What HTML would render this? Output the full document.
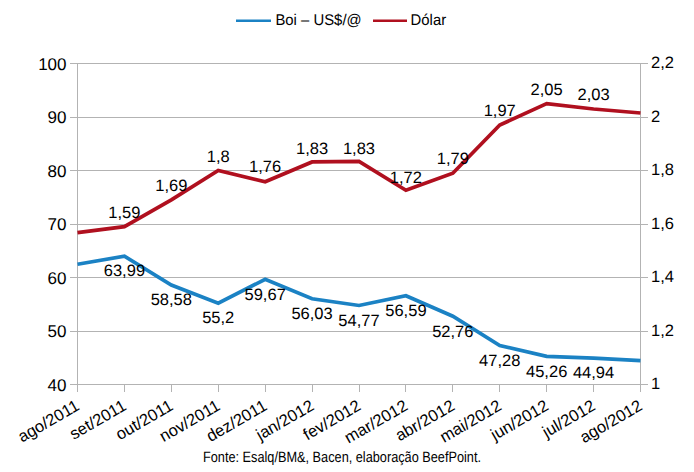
<!DOCTYPE html>
<html><head><meta charset="utf-8"><style>html,body{margin:0;padding:0;width:694px;height:472px;overflow:hidden;background:#fff}</style></head>
<body>
<svg width="694" height="472" viewBox="0 0 694 472" style="position:absolute;left:0;top:0" text-rendering="geometricPrecision">
<rect width="694" height="472" fill="#fff"/>
<line x1="70" y1="63.5" x2="648" y2="63.5" stroke="#b3b3b3" stroke-width="1"/>
<line x1="70" y1="117.5" x2="648" y2="117.5" stroke="#b3b3b3" stroke-width="1"/>
<line x1="70" y1="170.5" x2="648" y2="170.5" stroke="#b3b3b3" stroke-width="1"/>
<line x1="70" y1="224.5" x2="648" y2="224.5" stroke="#b3b3b3" stroke-width="1"/>
<line x1="70" y1="277.5" x2="648" y2="277.5" stroke="#b3b3b3" stroke-width="1"/>
<line x1="70" y1="331.5" x2="648" y2="331.5" stroke="#b3b3b3" stroke-width="1"/>
<line x1="70" y1="384.5" x2="648" y2="384.5" stroke="#b3b3b3" stroke-width="1"/>
<line x1="77.5" y1="63.5" x2="77.5" y2="392" stroke="#b3b3b3" stroke-width="1"/>
<line x1="640.5" y1="63.5" x2="640.5" y2="392" stroke="#b3b3b3" stroke-width="1"/>
<line x1="124.5" y1="384.5" x2="124.5" y2="392" stroke="#b3b3b3" stroke-width="1"/>
<line x1="171.5" y1="384.5" x2="171.5" y2="392" stroke="#b3b3b3" stroke-width="1"/>
<line x1="218.5" y1="384.5" x2="218.5" y2="392" stroke="#b3b3b3" stroke-width="1"/>
<line x1="265.5" y1="384.5" x2="265.5" y2="392" stroke="#b3b3b3" stroke-width="1"/>
<line x1="312.5" y1="384.5" x2="312.5" y2="392" stroke="#b3b3b3" stroke-width="1"/>
<line x1="359.5" y1="384.5" x2="359.5" y2="392" stroke="#b3b3b3" stroke-width="1"/>
<line x1="405.5" y1="384.5" x2="405.5" y2="392" stroke="#b3b3b3" stroke-width="1"/>
<line x1="452.5" y1="384.5" x2="452.5" y2="392" stroke="#b3b3b3" stroke-width="1"/>
<line x1="499.5" y1="384.5" x2="499.5" y2="392" stroke="#b3b3b3" stroke-width="1"/>
<line x1="546.5" y1="384.5" x2="546.5" y2="392" stroke="#b3b3b3" stroke-width="1"/>
<line x1="593.5" y1="384.5" x2="593.5" y2="392" stroke="#b3b3b3" stroke-width="1"/>
<text x="66.5" y="69.5" font-family="Liberation Sans, sans-serif" font-size="17" text-anchor="end" fill="#000">100</text>
<text x="66.5" y="123.0" font-family="Liberation Sans, sans-serif" font-size="17" text-anchor="end" fill="#000">90</text>
<text x="66.5" y="176.5" font-family="Liberation Sans, sans-serif" font-size="17" text-anchor="end" fill="#000">80</text>
<text x="66.5" y="230.0" font-family="Liberation Sans, sans-serif" font-size="17" text-anchor="end" fill="#000">70</text>
<text x="66.5" y="283.5" font-family="Liberation Sans, sans-serif" font-size="17" text-anchor="end" fill="#000">60</text>
<text x="66.5" y="337.0" font-family="Liberation Sans, sans-serif" font-size="17" text-anchor="end" fill="#000">50</text>
<text x="66.5" y="390.5" font-family="Liberation Sans, sans-serif" font-size="17" text-anchor="end" fill="#000">40</text>
<text x="651" y="68.0" font-family="Liberation Sans, sans-serif" font-size="16.5" fill="#000">2,2</text>
<text x="651" y="121.5" font-family="Liberation Sans, sans-serif" font-size="16.5" fill="#000">2</text>
<text x="651" y="175.0" font-family="Liberation Sans, sans-serif" font-size="16.5" fill="#000">1,8</text>
<text x="651" y="228.5" font-family="Liberation Sans, sans-serif" font-size="16.5" fill="#000">1,6</text>
<text x="651" y="282.0" font-family="Liberation Sans, sans-serif" font-size="16.5" fill="#000">1,4</text>
<text x="651" y="335.5" font-family="Liberation Sans, sans-serif" font-size="16.5" fill="#000">1,2</text>
<text x="651" y="389.0" font-family="Liberation Sans, sans-serif" font-size="16.5" fill="#000">1</text>
<polyline points="77.50,232.56 124.42,226.67 171.33,199.93 218.25,170.50 265.17,181.73 312.08,161.94 359.00,161.41 405.92,190.29 452.83,173.17 499.75,125.02 546.67,103.62 593.58,108.98 640.50,112.99" fill="none" stroke="#b0101f" stroke-width="3.7" stroke-linejoin="miter" stroke-linecap="butt"/>
<polyline points="77.50,264.29 124.42,256.15 171.33,285.10 218.25,303.18 265.17,279.27 312.08,298.74 359.00,305.48 405.92,295.74 452.83,316.23 499.75,345.55 546.67,356.36 593.58,358.07 640.50,360.69" fill="none" stroke="#1b82c4" stroke-width="3.7" stroke-linejoin="miter" stroke-linecap="butt"/>
<text x="124.41666666666666" y="217.87" font-family="Liberation Sans, sans-serif" font-size="16.5" text-anchor="middle" fill="#000">1,59</text>
<text x="124.41666666666666" y="276.45" font-family="Liberation Sans, sans-serif" font-size="16.5" text-anchor="middle" fill="#000">63,99</text>
<text x="171.33333333333331" y="191.12" font-family="Liberation Sans, sans-serif" font-size="16.5" text-anchor="middle" fill="#000">1,69</text>
<text x="171.33333333333331" y="305.40" font-family="Liberation Sans, sans-serif" font-size="16.5" text-anchor="middle" fill="#000">58,58</text>
<text x="218.25" y="161.70" font-family="Liberation Sans, sans-serif" font-size="16.5" text-anchor="middle" fill="#000">1,8</text>
<text x="218.25" y="323.48" font-family="Liberation Sans, sans-serif" font-size="16.5" text-anchor="middle" fill="#000">55,2</text>
<text x="265.16666666666663" y="172.40" font-family="Liberation Sans, sans-serif" font-size="16.5" text-anchor="middle" fill="#000">1,76</text>
<text x="265.16666666666663" y="299.57" font-family="Liberation Sans, sans-serif" font-size="16.5" text-anchor="middle" fill="#000">59,67</text>
<text x="312.08333333333337" y="153.67" font-family="Liberation Sans, sans-serif" font-size="16.5" text-anchor="middle" fill="#000">1,83</text>
<text x="312.08333333333337" y="319.04" font-family="Liberation Sans, sans-serif" font-size="16.5" text-anchor="middle" fill="#000">56,03</text>
<text x="359.0" y="153.67" font-family="Liberation Sans, sans-serif" font-size="16.5" text-anchor="middle" fill="#000">1,83</text>
<text x="359.0" y="325.78" font-family="Liberation Sans, sans-serif" font-size="16.5" text-anchor="middle" fill="#000">54,77</text>
<text x="405.9166666666667" y="183.10" font-family="Liberation Sans, sans-serif" font-size="16.5" text-anchor="middle" fill="#000">1,72</text>
<text x="405.9166666666667" y="316.04" font-family="Liberation Sans, sans-serif" font-size="16.5" text-anchor="middle" fill="#000">56,59</text>
<text x="452.8333333333333" y="164.37" font-family="Liberation Sans, sans-serif" font-size="16.5" text-anchor="middle" fill="#000">1,79</text>
<text x="452.8333333333333" y="336.53" font-family="Liberation Sans, sans-serif" font-size="16.5" text-anchor="middle" fill="#000">52,76</text>
<text x="499.75" y="116.22" font-family="Liberation Sans, sans-serif" font-size="16.5" text-anchor="middle" fill="#000">1,97</text>
<text x="499.75" y="365.85" font-family="Liberation Sans, sans-serif" font-size="16.5" text-anchor="middle" fill="#000">47,28</text>
<text x="546.6666666666667" y="94.83" font-family="Liberation Sans, sans-serif" font-size="16.5" text-anchor="middle" fill="#000">2,05</text>
<text x="546.6666666666667" y="376.66" font-family="Liberation Sans, sans-serif" font-size="16.5" text-anchor="middle" fill="#000">45,26</text>
<text x="593.5833333333334" y="100.18" font-family="Liberation Sans, sans-serif" font-size="16.5" text-anchor="middle" fill="#000">2,03</text>
<text x="593.5833333333334" y="378.37" font-family="Liberation Sans, sans-serif" font-size="16.5" text-anchor="middle" fill="#000">44,94</text>
<text x="80.50" y="409" font-family="Liberation Sans, sans-serif" font-size="16.5" text-anchor="end" fill="#000" transform="rotate(-30 80.50 409)">ago/2011</text>
<text x="127.42" y="409" font-family="Liberation Sans, sans-serif" font-size="16.5" text-anchor="end" fill="#000" transform="rotate(-30 127.42 409)">set/2011</text>
<text x="174.33" y="409" font-family="Liberation Sans, sans-serif" font-size="16.5" text-anchor="end" fill="#000" transform="rotate(-30 174.33 409)">out/2011</text>
<text x="221.25" y="409" font-family="Liberation Sans, sans-serif" font-size="16.5" text-anchor="end" fill="#000" transform="rotate(-30 221.25 409)">nov/2011</text>
<text x="268.17" y="409" font-family="Liberation Sans, sans-serif" font-size="16.5" text-anchor="end" fill="#000" transform="rotate(-30 268.17 409)">dez/2011</text>
<text x="315.08" y="409" font-family="Liberation Sans, sans-serif" font-size="16.5" text-anchor="end" fill="#000" transform="rotate(-30 315.08 409)">jan/2012</text>
<text x="362.00" y="409" font-family="Liberation Sans, sans-serif" font-size="16.5" text-anchor="end" fill="#000" transform="rotate(-30 362.00 409)">fev/2012</text>
<text x="408.92" y="409" font-family="Liberation Sans, sans-serif" font-size="16.5" text-anchor="end" fill="#000" transform="rotate(-30 408.92 409)">mar/2012</text>
<text x="455.83" y="409" font-family="Liberation Sans, sans-serif" font-size="16.5" text-anchor="end" fill="#000" transform="rotate(-30 455.83 409)">abr/2012</text>
<text x="502.75" y="409" font-family="Liberation Sans, sans-serif" font-size="16.5" text-anchor="end" fill="#000" transform="rotate(-30 502.75 409)">mai/2012</text>
<text x="549.67" y="409" font-family="Liberation Sans, sans-serif" font-size="16.5" text-anchor="end" fill="#000" transform="rotate(-30 549.67 409)">jun/2012</text>
<text x="596.58" y="409" font-family="Liberation Sans, sans-serif" font-size="16.5" text-anchor="end" fill="#000" transform="rotate(-30 596.58 409)">jul/2012</text>
<text x="643.50" y="409" font-family="Liberation Sans, sans-serif" font-size="16.5" text-anchor="end" fill="#000" transform="rotate(-30 643.50 409)">ago/2012</text>
<line x1="236" y1="20.75" x2="271" y2="20.75" stroke="#1b82c4" stroke-width="2.5"/>
<text x="0" y="0" font-family="Liberation Sans, sans-serif" font-size="15.5" fill="#000" transform="translate(275.4 25.2) scale(0.96 1)">Boi – US$/@</text>
<line x1="373" y1="20.75" x2="407" y2="20.75" stroke="#b0101f" stroke-width="2.5"/>
<text x="0" y="0" font-family="Liberation Sans, sans-serif" font-size="15.5" fill="#000" transform="translate(410.6 25.2) scale(0.96 1)">Dólar</text>
<text x="203" y="462" font-family="Liberation Sans, sans-serif" font-size="15" fill="#000" textLength="278" lengthAdjust="spacingAndGlyphs">Fonte: Esalq/BM&amp;, Bacen, elaboração BeefPoint.</text>
</svg>
</body></html>
